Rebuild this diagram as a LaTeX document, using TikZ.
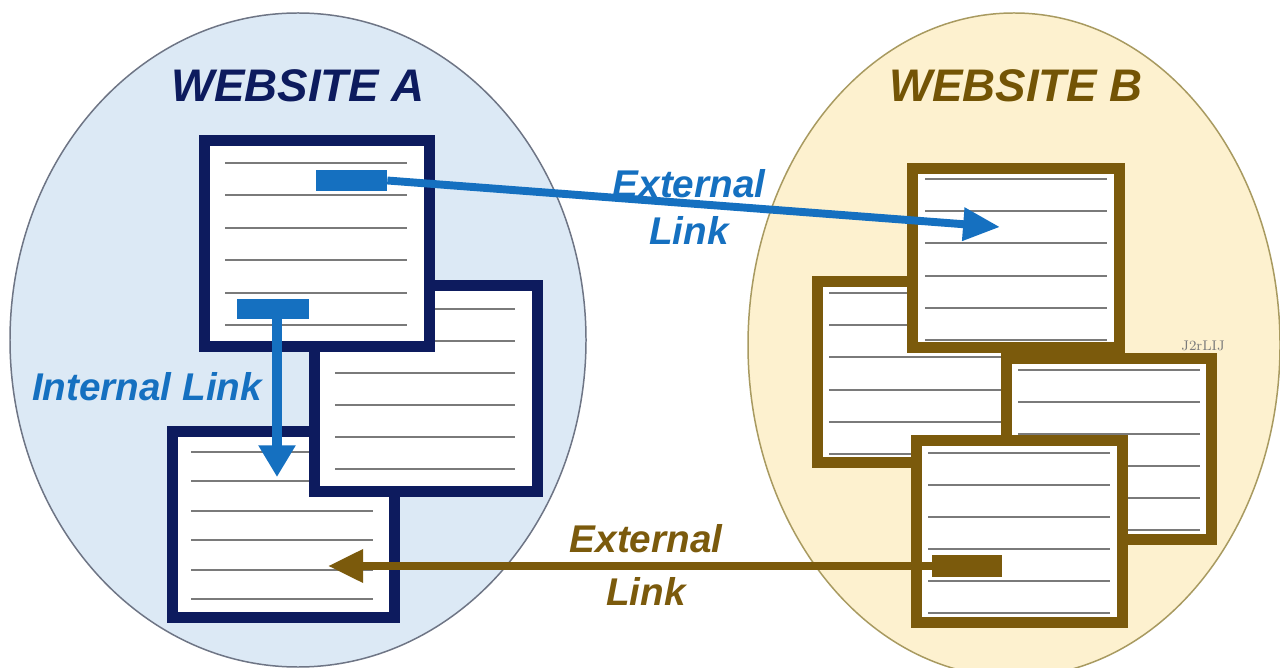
\documentclass[tikz,border=0pt]{standalone}
\usepackage{fontspec}
\usetikzlibrary{arrows.meta,fit}
\newfontfamily\lbfont{Liberation Sans}
\definecolor{navy}{HTML}{0D1B5E}
\definecolor{linkblue}{HTML}{1570C0}
\definecolor{brownb}{HTML}{7B5A0C}
\definecolor{titleb}{HTML}{735405}
\definecolor{fillA}{HTML}{DCE9F5}
\definecolor{drawA}{HTML}{6E7585}
\definecolor{fillB}{HTML}{FDF1CF}
\definecolor{drawB}{HTML}{A89A60}
\definecolor{rulegray}{HTML}{7A7A7A}
\tikzset{
  pageA/.style={draw=navy, line width=6.2pt, fill=white, inner sep=0pt},
  pageB/.style={draw=brownb, line width=6.2pt, fill=white, inner sep=0pt},
  rule/.style={draw=rulegray, line width=1.1pt},
  linkA/.style={fill=linkblue, inner sep=0pt},
  linkB/.style={fill=brownb, inner sep=0pt},
  title/.style={font=\lbfont\bfseries\itshape\fontsize{26}{30}\selectfont},
  lbl/.style={font=\lbfont\bfseries\itshape\fontsize{22}{27}\selectfont, align=center, inner sep=0pt},
  extblue/.style={draw=linkblue, line width=4.5pt, -{Triangle[length=21pt,width=18pt]}},
  extbrown/.style={draw=brownb, line width=4.5pt, -{Triangle[length=20pt,width=18pt]}},
  intblue/.style={draw=linkblue, line width=5.7pt, -{Triangle[length=18pt,width=20pt]}},
}
\newcommand{\pagerules}[4]{% x1 x2 y1 y2
  \foreach \k in {0,...,5}{
    \draw[rule] (#1,{#3+\k*(#4-#3)/5}) -- (#2,{#3+\k*(#4-#3)/5});
  }}
\begin{document}
\begin{tikzpicture}[x=0.02cm, y=-0.02cm]
\useasboundingbox (0,0) rectangle (1280,668);
\fill[white] (0,0) rectangle (1280,668);
\clip (0,0) rectangle (1280,668);
% sites
\draw[fill=fillA, draw=drawA, line width=0.85pt] (298,340) ellipse [x radius=288, y radius=327];
\draw[fill=fillB, draw=drawB, line width=0.85pt] (1014,345) ellipse [x radius=266, y radius=332];
\node[title, text=navy] (ta) at (298,86) {WEBSITE A};
\node[title, text=titleb] (tb) at (1016,86) {WEBSITE B};
% website A pages
\node[pageA, fit={(172.5,431.5) (394.5,617.5)}] (a3) {};
\pagerules{191}{373}{452}{599}
\node[pageA, fit={(314.5,285.5) (537.5,491.5)}] (a2) {};
\pagerules{335}{515}{309}{469}
\node[pageA, fit={(204.5,140.5) (429.5,346.5)}] (a1) {};
\pagerules{225}{407}{163}{325}
% website B pages
\node[pageB, fit={(817.5,281.5) (1040,462.5)}] (b2) {};
\pagerules{829}{1010}{293}{454}
\node[pageB, fit={(912.5,168.5) (1119.5,347.5)}] (b1) {};
\pagerules{925}{1107}{179}{340}
\node[pageB, fit={(1006.5,358.5) (1211.5,539.5)}] (b3) {};
\pagerules{1018}{1200}{370}{530}
\node[pageB, fit={(916.5,440.5) (1122.5,622.5)}] (b4) {};
\pagerules{928}{1110}{453}{613}
\node[font=\fontsize{8}{8}\selectfont, text=rulegray, inner sep=0pt] (ghost) at (1203,346) {J2rLIJ};
% link anchors
\node[linkA, fit={(316,170) (387,191)}] (la1) {};
\node[linkA, fit={(237,299) (309,319)}] (la2) {};
\node[linkB, fit={(932,555) (1002,577)}] (lb4) {};
\coordinate (tipb1) at (1000,227);
\coordinate (tipa3) at (277,477);
\coordinate (tipa3b) at (328,566);
% connectors
\draw[extblue] (la1.east) -- (tipb1);
\draw[intblue] (tipa3 |- la2.south) -- (tipa3);
\draw[extbrown] (lb4.west) -- (tipa3b);
% labels
\node[lbl, text=linkblue] (lext1) at (689,207) {External\\Link};
\node[lbl, text=linkblue] (lint) at (147,387) {Internal Link};
\node[lbl, text=brownb] (lext2) at (646,565) {External\\[3pt]Link};
\end{tikzpicture}
\end{document}
